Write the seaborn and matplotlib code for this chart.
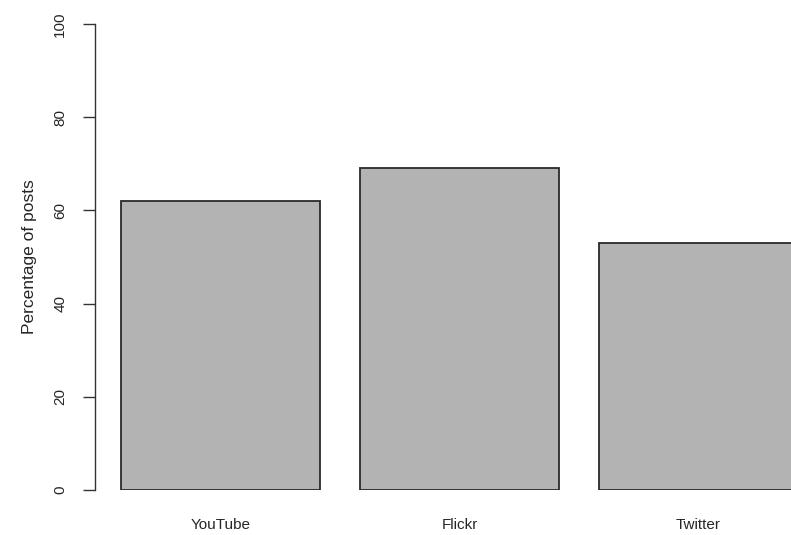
import matplotlib
matplotlib.use("Agg")
import matplotlib.pyplot as plt
import pandas as pd
import seaborn as sns

platforms = ["YouTube", "Flickr", "Twitter"]
pct_posts = [62, 69, 53]
y_ticks = [0, 20, 40, 60, 80, 100]

sns.set_style("white")
plt.rcParams['font.family'] = ['Liberation Sans', 'DejaVu Sans']

df = pd.DataFrame({"Platform": platforms, "Percentage": pct_posts})

fig = plt.figure(figsize=(7.91, 5.35), dpi=100)
# axes placed so that the y axis line sits at the left and bars run off the right edge
ax = fig.add_axes([95 / 791, 45 / 535, 696 / 791, 466 / 535])

sns.barplot(data=df, x="Platform", y="Percentage", order=platforms,
            color="#b3b3b3", saturation=1, width=0.833,
            edgecolor="#2a2a2a", linewidth=1.3, ax=ax)

ax.set_xlim(-0.525, 2.387)
ax.set_ylim(0, 100)
ax.set_yticks(y_ticks)
ax.set_yticklabels([str(t) for t in y_ticks], rotation=90, va="center", fontsize=11)
ax.tick_params(axis="y", length=9, width=1, color="#333333", pad=11, left=True)
ax.tick_params(axis="x", length=0, pad=20, labelsize=11)
ax.set_xlabel("")
ax.set_ylabel("Percentage of posts", fontsize=12.5, labelpad=12)

for side in ["top", "right", "bottom"]:
    ax.spines[side].set_visible(False)
ax.spines["left"].set_color("#333333")
ax.spines["left"].set_linewidth(1)

fig.savefig("out.png", dpi=100)
